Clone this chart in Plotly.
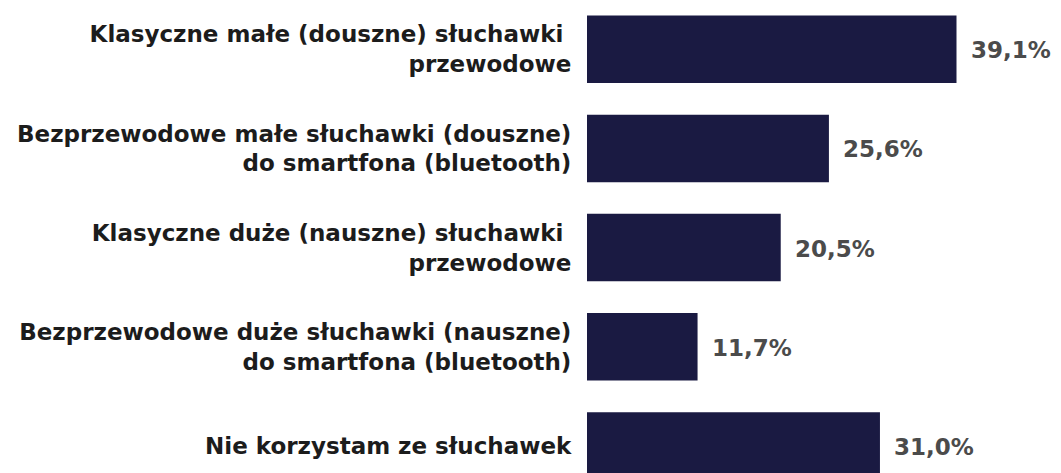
import plotly.graph_objects as go

categories = [
    "Klasyczne małe (douszne) słuchawki\u00a0<br>przewodowe",
    "Bezprzewodowe małe słuchawki (douszne)<br>do smartfona (bluetooth)",
    "Klasyczne duże (nauszne) słuchawki\u00a0<br>przewodowe",
    "Bezprzewodowe duże słuchawki (nauszne)<br>do smartfona (bluetooth)",
    "Nie korzystam ze słuchawek",
]
values = [39.1, 25.6, 20.5, 11.7, 31.0]
value_labels = ["39,1%", "25,6%", "20,5%", "11,7%", "31,0%"]

# the page body adds an 8px offset, so the figure is drawn 8px smaller
OFF = 8
W, H = 1061 - OFF, 473 - OFF
left = 587 - OFF
px_per_unit = 9.45
band = 99.2
first_center = 49.2 - OFF

FONT = "DejaVu Sans, Verdana, sans-serif"

fig = go.Figure(
    go.Bar(
        x=values,
        y=categories,
        orientation="h",
        width=0.68,
        marker=dict(color="#1a1a42", line=dict(width=0)),
        hoverinfo="skip",
    )
)

for cat, v, lab in zip(categories, values, value_labels):
    fig.add_annotation(
        x=v, y=cat, text=lab, showarrow=False,
        xanchor="left", yanchor="middle", xshift=12, yshift=-1,
        font=dict(family=FONT, size=23, color="#4b4b4b", weight="bold"),
    )

plot_w = W - left
top_val = -first_center / band
bottom_val = top_val + H / band

fig.update_layout(
    width=W, height=H,
    margin=dict(l=left, r=0, t=0, b=0, pad=0, autoexpand=False),
    paper_bgcolor="white", plot_bgcolor="white",
    showlegend=False,
    xaxis=dict(visible=False, automargin=False, range=[0, plot_w / px_per_unit]),
    yaxis=dict(
        range=[bottom_val, top_val],
        automargin=False,
        showgrid=False, zeroline=False, showline=False,
        ticks="outside", ticklen=10, tickcolor="rgba(0,0,0,0)",
        tickfont=dict(family=FONT, size=23, color="#1c1c1c", weight="bold"),
    ),
)

fig.write_html("out.html")
